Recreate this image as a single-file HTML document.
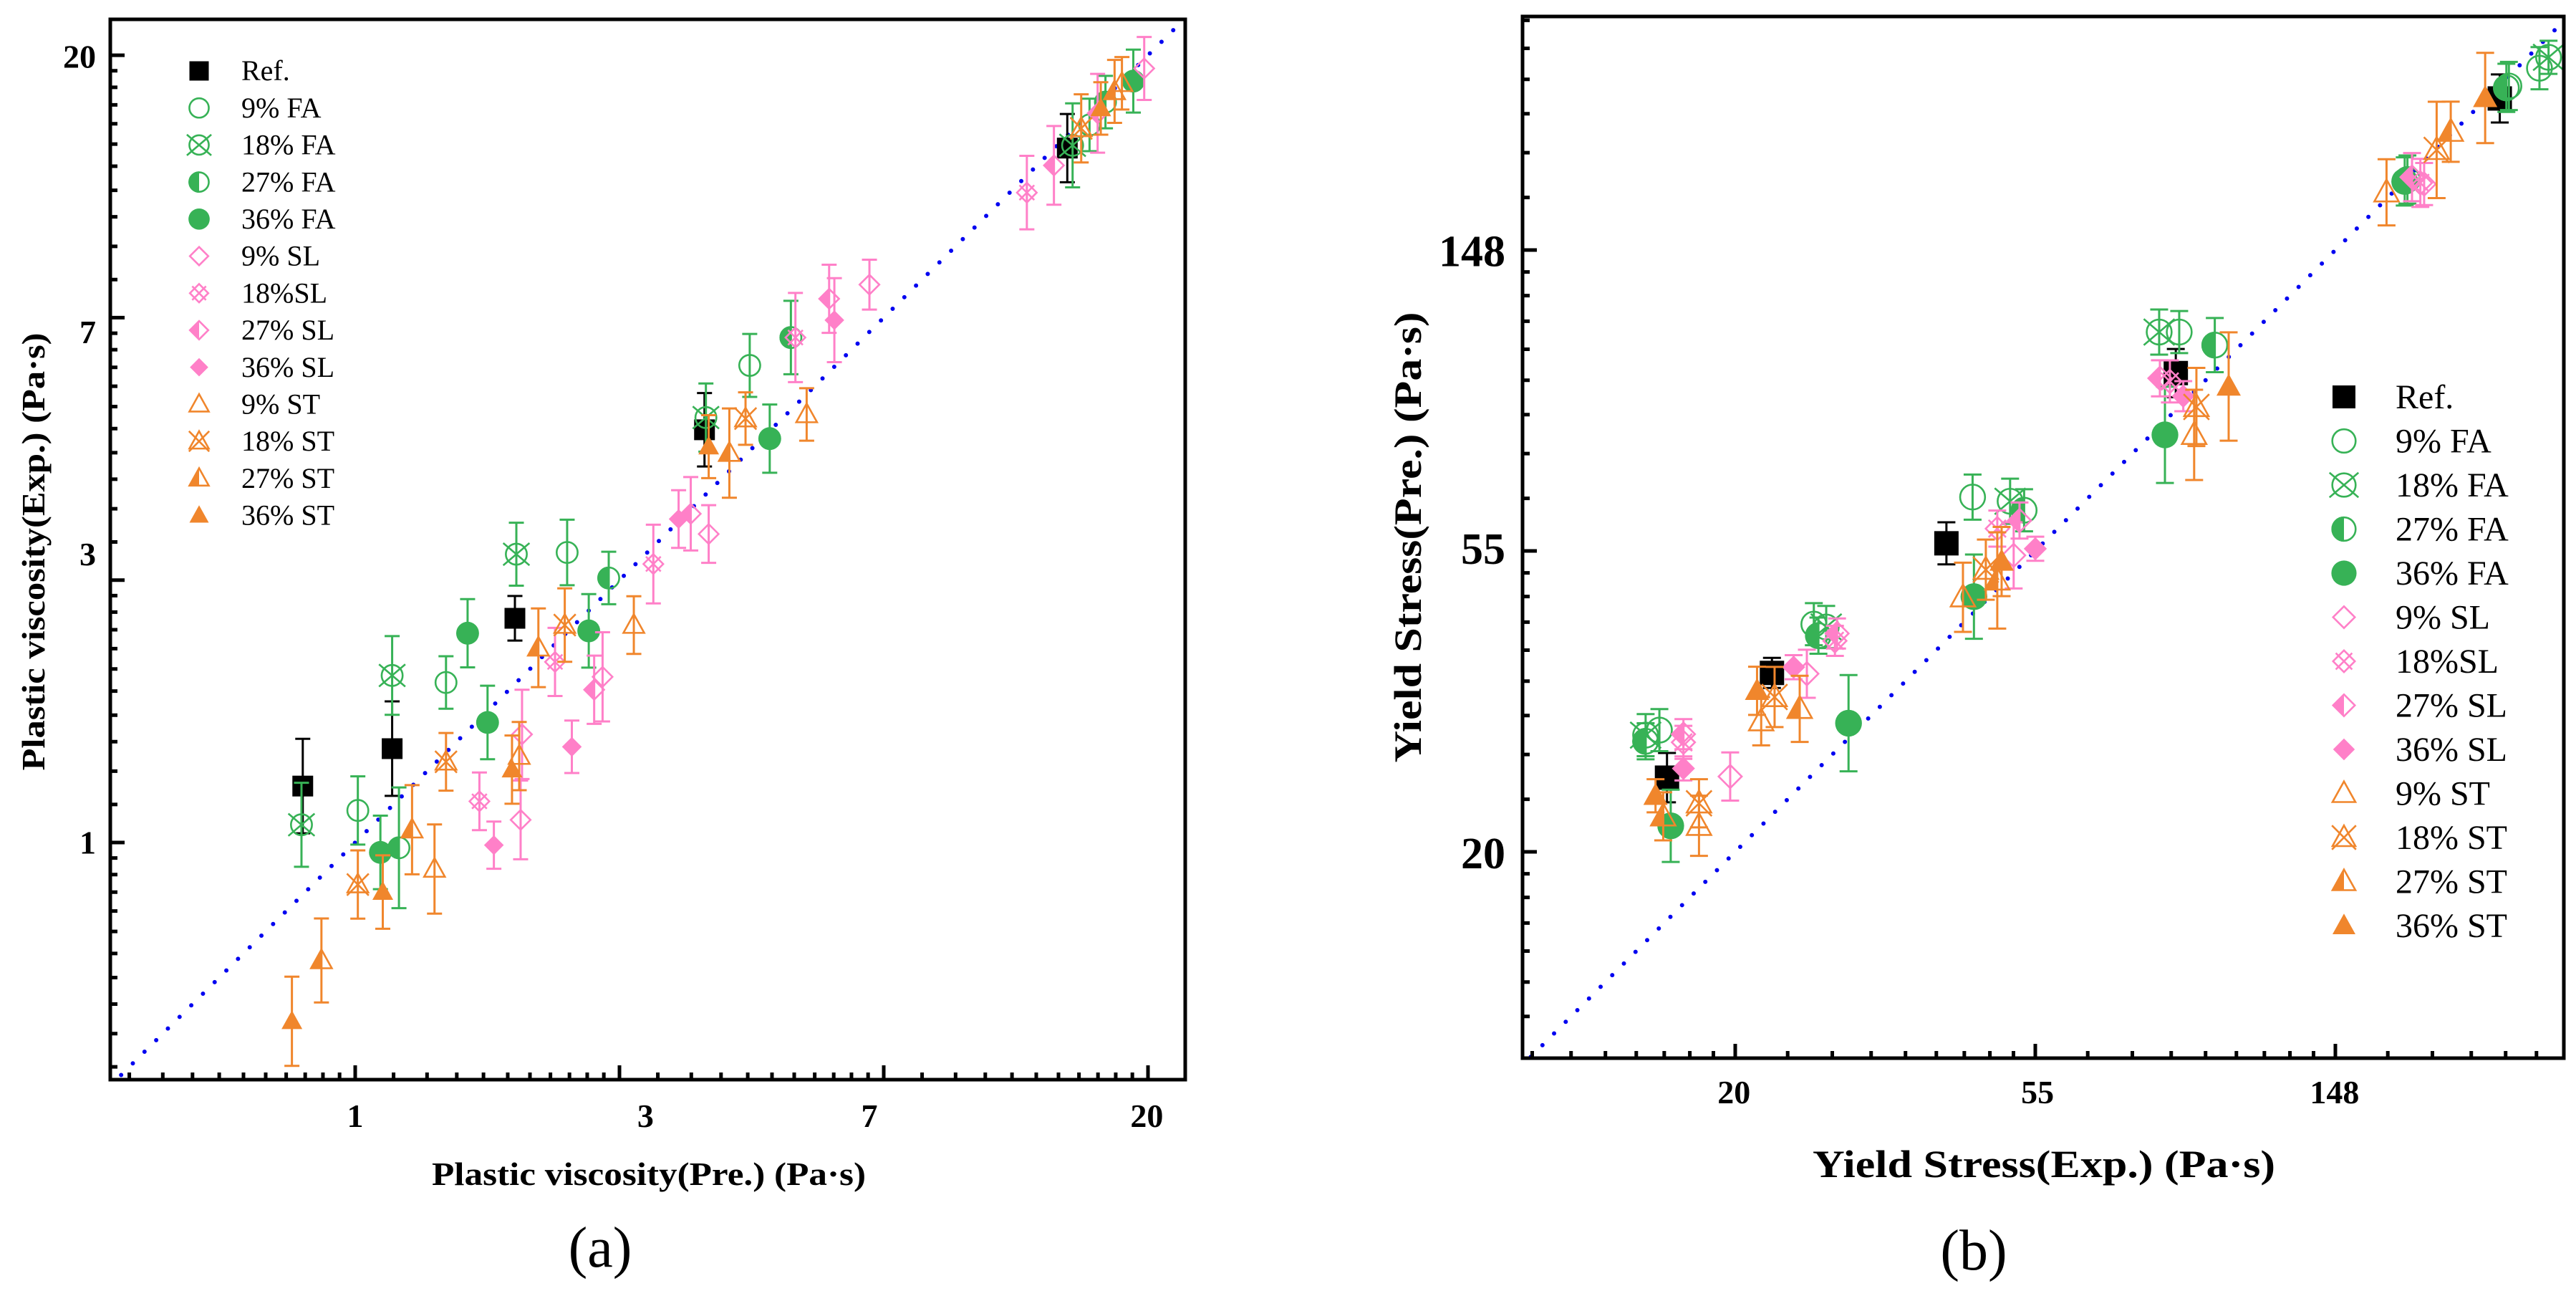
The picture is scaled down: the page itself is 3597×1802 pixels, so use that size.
<!DOCTYPE html>
<html><head><meta charset="utf-8"><style>
html,body{margin:0;padding:0;background:#fff;}
svg{display:block;}
text{font-family:"Liberation Serif",serif;}
</style></head><body>
<svg id="fig" width="3597" height="1802" viewBox="0 0 3597 1802" xmlns="http://www.w3.org/2000/svg" font-family="Liberation Serif, serif">
<defs>
<clipPath id="clipA"><rect x="154" y="27" width="1501" height="1480"/></clipPath>
<clipPath id="clipB"><rect x="2126" y="23" width="1454" height="1454"/></clipPath>
</defs>
<g id="panelA"></g>
<g id="panelB"></g>
<text x="0" y="0" transform="translate(62,770) rotate(-90)" text-anchor="middle" font-family="Liberation Serif, serif" font-size="46" font-weight="bold" textLength="611" lengthAdjust="spacingAndGlyphs">Plastic viscosity(Exp.) (Pa·s)</text>
<text x="906" y="1654" text-anchor="middle" font-family="Liberation Serif, serif" font-size="46" font-weight="bold" textLength="606" lengthAdjust="spacingAndGlyphs">Plastic viscosity(Pre.) (Pa·s)</text>
<text x="838" y="1768" text-anchor="middle" font-family="Liberation Serif, serif" font-size="80">(a)</text>
<text x="0" y="0" transform="translate(1984,750) rotate(-90)" text-anchor="middle" font-family="Liberation Serif, serif" font-size="54" font-weight="bold" textLength="629" lengthAdjust="spacingAndGlyphs">Yield Stress(Pre.) (Pa·s)</text>
<text x="2854" y="1643" text-anchor="middle" font-family="Liberation Serif, serif" font-size="54" font-weight="bold" textLength="646" lengthAdjust="spacingAndGlyphs">Yield Stress(Exp.) (Pa·s)</text>
<text x="2756" y="1772" text-anchor="middle" font-family="Liberation Serif, serif" font-size="80">(b)</text>
</svg>
<script>
// ---------- shared series metadata ----------
const seriesNames = ["Ref.","9% FA","18% FA","27% FA","36% FA","9% SL","18%SL","27% SL","36% SL","9% ST","18% ST","27% ST","36% ST"];
const seriesShapes = ["square","circle","circleX","circleHalf","circleFill","diamond","diamondX","diamondHalf","diamondFill","tri","triX","triHalf","triFill"];
const seriesColors = ["#000000","#37B256","#37B256","#37B256","#37B256","#FF80C8","#FF80C8","#FF80C8","#FF80C8","#F0862C","#F0862C","#F0862C","#F0862C"];

// ---------- panel (a) data: plastic viscosity ----------
const aTicks = [1,3,7,20];
const aTickLabels = ["1","3","7","20"];
const aPre = [
 [0.82,1.15,1.83,3.75,14.8],
 [1.01,1.41,2.23,4.45,16.1],
 [0.816,1.15,1.84,3.77,15.1],
 [1.18,2.61,5.2,17.1],
 [1.1,1.53,1.65,2.42,4.8,19.0],
 [1.87,1.88,2.55,3.81,7.0,19.8],
 [1.6,2.13,3.09,5.29,12.7],
 [2.47,3.56,6.01,14.07,16.6],
 [1.69,2.27,3.4,6.13],
 [1.35,1.86,2.87,5.52,18.2],
 [1.01,1.41,2.21,4.38,15.6],
 [0.88,1.24,2.0,4.12,17.7],
 [0.787,1.11,1.81,3.81,16.8]
];
const aExp = [
 [1.24,1.43,2.35,4.82,14.1],
 [1.13,1.84,3.02,6.16,15.4],
 [1.07,1.89,3.0,5.05,14.25],
 [0.98,2.74,6.85,16.8],
 [0.963,2.22,1.58,2.24,4.66,18.2],
 [1.09,1.51,1.88,3.24,8.38,19.1],
 [1.17,1.99,2.89,6.85,11.9],
 [1.79,3.5,7.94,13.2,16.1],
 [0.99,1.44,3.43,7.32],
 [0.904,1.39,2.29,5.11,18.05],
 [0.852,1.36,2.29,5.03,15.2],
 [0.638,1.05,2.1,4.41,17.5],
 [0.506,0.828,1.32,4.52,16.4]
];
const aErr = [
 [0.18,0.18,0.085,0.14,0.13],
 [0.13,0.10,0.125,0.12,0.10],
 [0.16,0.15,0.12,0.13,0.16],
 [0.23,0.10,0.14,0.10],
 [0.14,0.13,0.14,0.14,0.13,0.12],
 [0.15,0.17,0.17,0.11,0.095,0.12],
 [0.11,0.13,0.15,0.17,0.14],
 [0.13,0.14,0.13,0.15,0.15],
 [0.09,0.10,0.11,0.16],
 [0.17,0.13,0.11,0.10,0.10],
 [0.13,0.11,0.14,0.10,0.13],
 [0.16,0.17,0.15,0.17,0.12],
 [0.17,0.14,0.13,0.12,0.10]
];

// ---------- panel (b) data: yield stress ----------
const bTicks = [20,55,148];
const bTickLabels = ["20","55","148"];
const bExp = [
 [16.0,22.7,40.6,87.2,256.7],
 [15.6,26.1,44.3,88.2,264.6,293],
 [14.9,27.2,50.2,82.5,302],
 [14.9,26.5,52.6,99.3,188.7,262.4],
 [16.2,29.3,44.5,84.1,187],
 [19.75,25.5,50.8,199.5],
 [16.9,28.0,48.1,85.5,197],
 [16.9,28.2,51.8,82.7,191.6],
 [16.9,24.4,54.6,89.4],
 [17.8,21.9,42.9,92.7,176],
 [17.8,22.9,46.3,93.4,208],
 [15.8,24.9,48.1,218],
 [15.4,21.6,48.8,104,244.5]
];
const bPre = [
 [25.7,36.4,56.0,98.6,245.6],
 [30.1,42.8,65.3,113,256,271.6],
 [29.6,42.4,64.4,113,281.6],
 [29.0,41.2,62.5,108.2,187.6,254.4],
 [21.9,30.8,46.9,80.3,186.4],
 [25.8,36.3,53.8,184.8],
 [28.9,40.5,58.8,95.9,185.5],
 [29.7,41.5,60.4,96.9,189.1],
 [26.5,37.1,55.0,91.3],
 [21.9,31.0,46.8,80.3,179.8],
 [23.6,33.6,51.3,88.1,207],
 [22.6,32.3,49.5,219.9],
 [24.2,34.3,52.7,94.3,246]
];
const bErr = [
 [0.082,0.05,0.07,0.08,0.08],
 [0.07,0.07,0.075,0.07,0.08,0.07],
 [0.07,0.07,0.075,0.075,0.055],
 [0.06,0.06,0.07,0.09,0.08,0.08],
 [0.12,0.16,0.14,0.16,0.08],
 [0.08,0.08,0.11,0.07],
 [0.055,0.05,0.06,0.07,0.08],
 [0.05,0.05,0.06,0.06,0.08],
 [0.04,0.04,0.04,0.05],
 [0.10,0.08,0.115,0.15,0.11],
 [0.08,0.10,0.10,0.13,0.16],
 [0.08,0.11,0.16,0.10],
 [0.055,0.08,0.115,0.18,0.15]
];

const NS = "http://www.w3.org/2000/svg";
const FONT = "Liberation Serif, serif";
function mk(tag, attrs, parent){
  const e = document.createElementNS(NS, tag);
  for (const k in attrs) e.setAttribute(k, attrs[k]);
  if (parent) parent.appendChild(e);
  return e;
}

// axis functions (ln-based scales)
const A = {x0:154,x1:1655,y0:27,y1:1507,
  xp:v=>496+369*Math.log(v), yp:v=>1176-366.3*Math.log(v), uMin:-0.93, uMax:3.15, nMinor:11};
const B = {x0:2126,x1:3580,y0:23,y1:1477,
  xp:v=>2423+419*(Math.log(v)-3), yp:v=>1189-420*(Math.log(v)-3), uMin:2.28, uMax:5.78, nMinor:9};

function drawMarker(g, shape, color, cx, cy, s){
  const r = s/2, sw = 2.6;
  const st = {stroke:color,"stroke-width":sw,fill:"none"};
  let m;
  if (shape==="square"){
    m = mk("rect",{x:cx-r,y:cy-r,width:s,height:s,fill:color},g);
  } else if (shape.startsWith("circle")){
    const R = r*1.1;
    if (shape==="circleFill"){ m = mk("circle",{cx:cx,cy:cy,r:R,fill:color},g); }
    else {
      if (shape==="circleHalf") mk("path",{d:`M${cx},${cy-R} A${R},${R} 0 0 0 ${cx},${cy+R} Z`,fill:color},g);
      m = mk("circle",Object.assign({cx:cx,cy:cy,r:R-sw/2},st),g);
      if (shape==="circleX"){
        const d = R*1.15;
        mk("path",Object.assign({d:`M${cx-d},${cy-d*0.85}L${cx+d},${cy+d*0.85}M${cx+d},${cy-d*0.85}L${cx-d},${cy+d*0.85}`},st),g);
      }
    }
  } else if (shape.startsWith("diamond")){
    const R = r*0.95;
    const pts = `${cx},${cy-R} ${cx+R},${cy} ${cx},${cy+R} ${cx-R},${cy}`;
    if (shape==="diamondFill"){ m = mk("polygon",{points:pts,fill:color},g); }
    else {
      if (shape==="diamondHalf") mk("polygon",{points:`${cx},${cy-R} ${cx},${cy+R} ${cx-R},${cy}`,fill:color},g);
      m = mk("polygon",Object.assign({points:pts},st),g);
      if (shape==="diamondX"){
        const d=R*0.75;
        mk("path",Object.assign({d:`M${cx-d},${cy-d}L${cx+d},${cy+d}M${cx+d},${cy-d}L${cx-d},${cy+d}`},st),g);
      }
    }
  } else {
    const R = r;
    const top = cy-R*1.05, bot = cy+R*0.75;
    const pts = `${cx},${top} ${cx+R},${bot} ${cx-R},${bot}`;
    if (shape==="triFill"){ m = mk("polygon",{points:pts,fill:color},g); }
    else {
      if (shape==="triHalf") mk("polygon",{points:`${cx},${top} ${cx},${bot} ${cx-R},${bot}`,fill:color},g);
      m = mk("polygon",Object.assign({points:pts,"stroke-linejoin":"miter"},st),g);
      if (shape==="triX"){
        const d=R*1.05;
        mk("path",Object.assign({d:`M${cx-d},${cy-d}L${cx+d},${cy+d}M${cx+d},${cy-d}L${cx-d},${cy+d}`},st),g);
      }
    }
  }
  return m;
}

function drawPanel(root, S, clipId, xs, ys, errs, ticks, tickLabels, opt){
  const plot = mk("g",{"clip-path":`url(#${clipId})`},root);
  
  
  const diag = mk("line",{x1:S.xp(Math.exp(S.uMin)),y1:S.yp(Math.exp(S.uMin)),x2:S.xp(Math.exp(S.uMax)),y2:S.yp(Math.exp(S.uMax)),
    stroke:"#0000F0","stroke-width":6,"stroke-linecap":"round","stroke-dasharray":"0 23"},plot);
  
  
  for (let i=0;i<seriesNames.length;i++){
    const sg = mk("g",{},plot);
    
    
    const col = seriesColors[i];
    for (let j=0;j<xs[i].length;j++){
      const cx = S.xp(xs[i][j]), cy = S.yp(ys[i][j]);
      const f = Math.exp(errs[i][j]);
      const yt = S.yp(ys[i][j]*f), yb = S.yp(ys[i][j]/f);
      const cw = opt.cap/2;
      const eb = mk("path",{d:`M${cx},${yt}L${cx},${yb}M${cx-cw},${yt}L${cx+cw},${yt}M${cx-cw},${yb}L${cx+cw},${yb}`,stroke:col,"stroke-width":3,fill:"none"},sg);
      
      
      const m = drawMarker(sg, seriesShapes[i], col, cx, cy, opt.ms);
      
      
    }
  }
  const fr = mk("rect",{x:S.x0,y:S.y0,width:S.x1-S.x0,height:S.y1-S.y0,fill:"none",stroke:"#000","stroke-width":5},root);
  
  
  const tg = mk("g",{stroke:"#000","stroke-width":5},root);
  
  
  let d = "";
  for (let k=Math.floor(S.uMin)-1;k<=Math.ceil(S.uMax);k++){
    const lo = Math.exp(k), hi = Math.exp(k+1);
    if (k>=S.uMin && k<=S.uMax){
      const v = Math.exp(k);
      const X = S.xp(v), Y = S.yp(v);
      if (X>S.x0+4 && X<S.x1-4) d += `M${X},${S.y1}L${X},${S.y1-20}`;
      if (Y>S.y0+4 && Y<S.y1-4) d += `M${S.x0},${Y}L${S.x0+20},${Y}`;
    }
    for (let j=1;j<S.nMinor;j++){
      const v = lo + j*(hi-lo)/S.nMinor;
      const X = S.xp(v), Y = S.yp(v);
      if (X>S.x0+4 && X<S.x1-4) d += `M${X},${S.y1}L${X},${S.y1-10}`;
      if (Y>S.y0+4 && Y<S.y1-4) d += `M${S.x0},${Y}L${S.x0+10},${Y}`;
    }
  }
  mk("path",{d:d,fill:"none"},tg);
  for (let t=0;t<ticks.length;t++){
    const xl = mk("text",{x:S.xp(ticks[t]),y:opt.xTickY,"text-anchor":"middle","font-family":FONT,"font-size":opt.xTickFs,"font-weight":"bold"},root);
    xl.textContent = tickLabels[t];
    
    
    const yl = mk("text",{x:opt.yTickX,y:S.yp(ticks[t])+opt.yTickFs*0.34,"text-anchor":"end","font-family":FONT,"font-size":opt.yTickFs,"font-weight":"bold"},root);
    yl.textContent = tickLabels[t];
    
    
  }
  const lg = mk("g",{},root);
  
  
  for (let i=0;i<seriesNames.length;i++){
    const y = opt.legY + i*opt.legStep;
    const eg = mk("g",{},lg);
    
    
    drawMarker(eg, seriesShapes[i], seriesColors[i], opt.legMX, y, opt.legMs);
    const tx = mk("text",{x:opt.legTX,y:y+opt.legFs*0.33,"font-family":FONT,"font-size":opt.legFs},eg);
    tx.textContent = seriesNames[i];
  }
}

const gA = document.getElementById("panelA");
drawPanel(gA, A, "clipA", aPre, aExp, aErr, aTicks, aTickLabels,
  {ms:29, cap:21, xTickY:1573, xTickFs:46, yTickX:134, yTickFs:46,
   legY:99, legStep:51.7, legMX:278, legTX:337, legFs:40, legMs:27});
const gB = document.getElementById("panelB");
drawPanel(gB, B, "clipB", bExp, bPre, bErr, bTicks, bTickLabels,
  {ms:34, cap:25, xTickY:1540, xTickFs:46, yTickX:2102, yTickFs:62,
   legY:554, legStep:61.5, legMX:3273, legTX:3345, legFs:48, legMs:32});
</script>
</body></html>
